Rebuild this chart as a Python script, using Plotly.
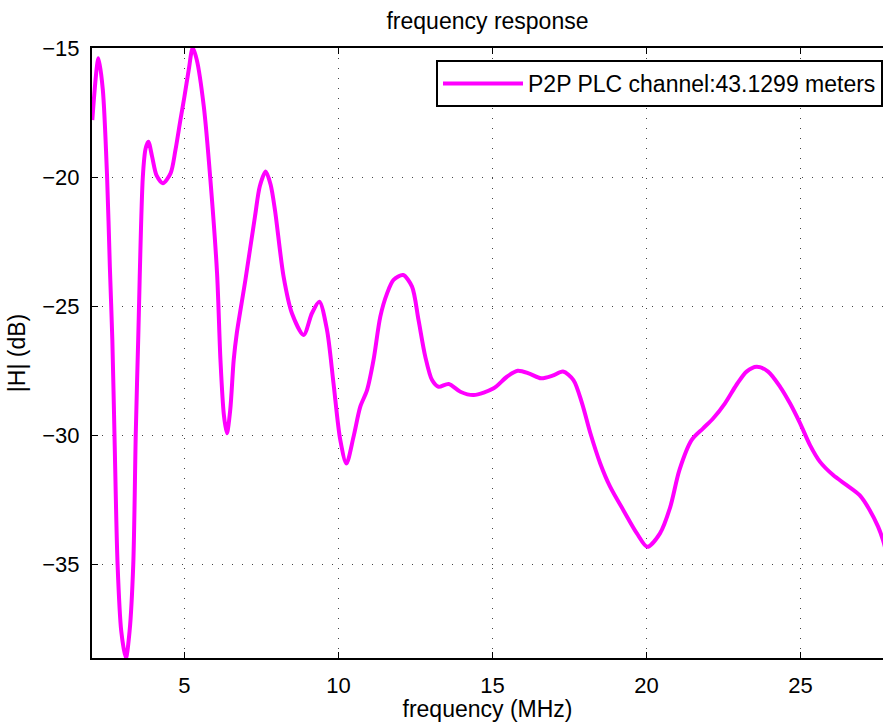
import plotly.graph_objects as go

# frequency (MHz) and |H| (dB)
freq_mhz = [2.01, 2.21, 2.35, 2.49, 2.58, 2.66, 2.73, 2.83, 2.95, 3.10, 3.22, 3.34, 3.42, 3.50,
            3.65, 3.74, 3.83, 3.95, 4.10, 4.30, 4.55, 4.71, 4.87, 5.00, 5.14, 5.27, 5.40, 5.63,
            5.84, 6.06, 6.17, 6.28, 6.38, 6.49, 6.60, 6.70, 6.98, 7.29, 7.45, 7.64, 7.80,
            7.94, 8.22, 8.49, 8.87, 9.14, 9.38, 9.63, 9.84, 10.06, 10.26, 10.49, 10.71,
            10.93, 11.14, 11.36, 11.58, 11.79, 12.10, 12.39, 12.60, 12.82, 13.04, 13.25,
            13.58, 13.96, 14.39, 15.04, 15.47, 15.82, 16.20, 16.58, 16.95, 17.29, 17.63,
            17.91, 18.18, 18.50, 18.82, 19.25, 19.69, 20.03, 20.44, 20.77, 21.07, 21.47,
            21.84, 22.17, 22.55, 22.92, 23.25, 23.58, 23.95, 24.34, 24.66, 24.99, 25.31,
            25.63, 26.06, 26.50, 26.92, 27.25, 27.52, 27.68, 27.80]
mag_db = [-17.79, -15.40, -16.60, -20.00, -23.50, -26.30, -30.00, -35.00, -37.60, -38.64,
          -37.60, -35.00, -30.00, -26.30, -20.00, -18.90, -18.63, -19.20, -19.95, -20.24,
          -19.86, -18.95, -17.79, -16.89, -15.85, -15.00, -15.45, -17.27, -20.05, -23.73,
          -27.09, -29.20, -29.93, -29.00, -27.09, -26.06, -23.99, -21.54, -20.35, -19.79,
          -20.30, -21.28, -23.86, -25.28, -26.12, -25.28, -24.83, -25.93, -27.99, -30.19,
          -31.10, -30.07, -28.90, -28.26, -27.09, -25.41, -24.51, -23.99, -23.80, -24.25,
          -25.54, -26.96, -27.87, -28.13, -28.02, -28.32, -28.45, -28.19, -27.74, -27.51,
          -27.62, -27.80, -27.70, -27.54, -27.87, -28.77, -29.93, -31.10, -32.00, -32.91,
          -33.81, -34.33, -33.81, -32.80, -31.36, -30.19, -29.74, -29.35, -28.77, -28.06,
          -27.54, -27.35, -27.54, -28.13, -28.77, -29.55, -30.39, -31.03, -31.55, -31.94,
          -32.33, -32.91, -33.55, -34.07, -34.60]

series_name = "P2P PLC channel:43.1299 meters"
x_ticks = [5, 10, 15, 20, 25]
y_ticks = [-35, -30, -25, -20, -15]

FONT = "Liberation Sans, Arial, Helvetica, sans-serif"

fig = go.Figure()
fig.add_trace(go.Scatter(
    x=freq_mhz, y=mag_db, mode="lines", name=series_name,
    line=dict(color="#FF00FF", width=4, shape="spline", smoothing=0.8),
    showlegend=True,
))

axis_common = dict(
    showgrid=True, gridcolor="#444444", gridwidth=1, griddash="1px,9px",
    zeroline=False, showline=True, linecolor="black", linewidth=2,
    ticks="inside", ticklen=6, tickcolor="black", tickwidth=1,
    tickfont=dict(family=FONT, size=22, color="black"),
)

fig.update_layout(
    width=883, height=722,
    margin=dict(l=92, r=0, t=48, b=64),
    paper_bgcolor="white", plot_bgcolor="white",
    title=dict(text="frequency response", x=0.5, xanchor="center",
               xref="paper", yref="container", y=1 - 21 / 722, yanchor="middle",
               font=dict(family=FONT, size=23, color="black")),
    xaxis=dict(range=[2.0, 27.68], tickvals=x_ticks, mirror="ticks",
               title=dict(text="frequency (MHz)", standoff=4,
                          font=dict(family=FONT, size=23, color="black")),
               ticklabelstandoff=7, **axis_common),
    yaxis=dict(range=[-38.64, -15.0], tickvals=y_ticks,
               title=dict(text="|H| (dB)", standoff=10,
                          font=dict(family=FONT, size=23, color="black")),
               ticklabelstandoff=6, **axis_common),
    legend=dict(x=1, xanchor="right", y=1 - 12 / 610, yanchor="top",
                bgcolor="white", bordercolor="black", borderwidth=2,
                itemwidth=80,
                font=dict(family=FONT, size=23, color="black")),
)

fig.write_html("out.html", config={"displayModeBar": False},
               post_script="document.body.style.margin='0';document.body.style.padding='0';")
